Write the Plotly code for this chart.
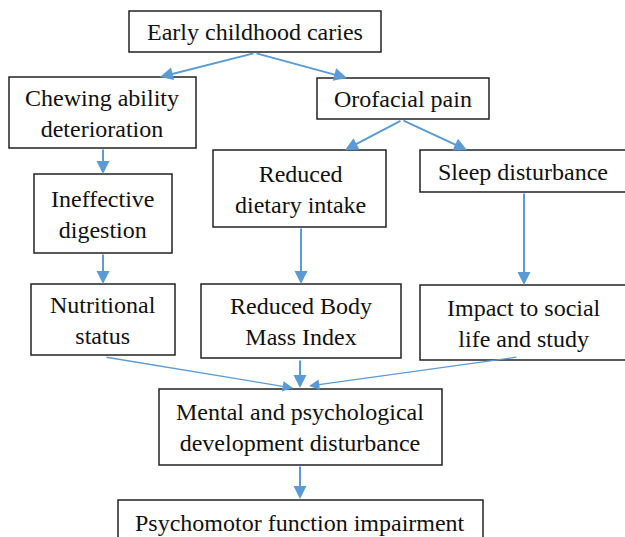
import plotly.graph_objects as go

# ---- data: node labels and directed edges ----
node_ids = ["ecc", "chew", "oro", "dig", "diet", "sleep", "nutr", "bmi", "social", "mental", "psycho"]
node_labels = [
    "Early childhood caries",
    "Chewing ability<br>deterioration",
    "Orofacial pain",
    "Ineffective<br>digestion",
    "Reduced<br>dietary intake",
    "Sleep disturbance",
    "Nutritional<br>status",
    "Reduced Body<br>Mass Index",
    "Impact to social<br>life and study",
    "Mental and psychological<br>development disturbance",
    "Psychomotor function impairment",
]
edge_from = ["ecc", "ecc", "chew", "dig", "oro", "oro", "diet", "sleep", "nutr", "bmi", "social", "mental"]
edge_to = ["chew", "oro", "dig", "nutr", "diet", "sleep", "bmi", "social", "mental", "mental", "mental", "psycho"]

# ---- layout (pixel geometry of boxes: x0, y0, x1, y1; text centre) ----
boxes = {
    "ecc": (129, 11, 381, 52),
    "chew": (9, 77, 196, 148),
    "oro": (317, 78, 489, 119),
    "dig": (34, 174, 172, 253),
    "diet": (213, 150, 386, 227),
    "sleep": (420, 150, 640, 192),
    "nutr": (31, 284, 175, 355),
    "bmi": (201, 284, 401, 358),
    "social": (420, 285, 640, 360),
    "mental": (159, 389, 442, 465),
    "psycho": (118, 500, 483, 560),
}
text_centre = {
    "ecc": (255, 32), "chew": (102, 113), "oro": (403, 99), "dig": (103, 214),
    "diet": (300, 189), "sleep": (523, 172), "nutr": (103, 320), "bmi": (301, 321),
    "social": (524, 323), "mental": (300, 427), "psycho": (300, 523),
}
# arrow start (tail) and end (tip) points per edge
arrow_pts = {
    ("ecc", "chew"): ((255, 53), (160, 77)),
    ("ecc", "oro"): ((255, 53), (347, 78)),
    ("chew", "dig"): ((103, 148), (103, 174)),
    ("dig", "nutr"): ((103, 253), (103, 284)),
    ("oro", "diet"): ((402, 120), (345, 150)),
    ("oro", "sleep"): ((402, 120), (467, 150)),
    ("diet", "bmi"): ((301, 227), (301, 284)),
    ("sleep", "social"): ((524, 192), (524, 285)),
    ("nutr", "mental"): ((105, 357), (293, 388)),
    ("bmi", "mental"): ((300, 359), (300, 388)),
    ("social", "mental"): ((518, 357), (309, 386)),
    ("mental", "psycho"): ((300, 465), (300, 499)),
}
thin_edges = {("nutr", "mental"), ("social", "mental")}

W, H = 625, 537
FONT = "Liberation Serif"
ARROW = "#5b9bd5"

fig = go.Figure()
fig.add_trace(go.Scatter(x=[0, W], y=[0, H], mode="markers", marker=dict(opacity=0), hoverinfo="skip", showlegend=False))

for nid, label in zip(node_ids, node_labels):
    x0, y0, x1, y1 = boxes[nid]
    fig.add_shape(type="rect", xref="x", yref="y", x0=x0, y0=y0, x1=x1, y1=y1,
                  line=dict(color="#222222", width=1.5), fillcolor="white", layer="below")
    cx, cy = text_centre[nid]
    fig.add_annotation(x=cx, y=cy, xref="x", yref="y", text=label, showarrow=False,
                       font=dict(family=FONT, size=24, color="#111111"),
                       xanchor="center", yanchor="middle", align="center")

for a, b in zip(edge_from, edge_to):
    (tx, ty), (hx, hy) = arrow_pts[(a, b)]
    thin = (a, b) in thin_edges
    fig.add_annotation(x=hx, y=hy, ax=tx, ay=ty, xref="x", yref="y", axref="x", ayref="y",
                       text="", showarrow=True, arrowhead=2,
                       arrowsize=1.6 if thin else 1.3, arrowwidth=1.3 if thin else 2,
                       arrowcolor=ARROW, standoff=0, startstandoff=0)

fig.update_layout(
    width=W, height=H, margin=dict(l=0, r=0, t=0, b=0),
    paper_bgcolor="white", plot_bgcolor="white", showlegend=False,
    xaxis=dict(range=[0, W], visible=False, fixedrange=True),
    yaxis=dict(range=[H, 0], visible=False, fixedrange=True),
)
fig.write_html("out.html", config={"displayModeBar": False},
               post_script="document.body.style.margin='0';document.body.style.overflow='hidden';")
